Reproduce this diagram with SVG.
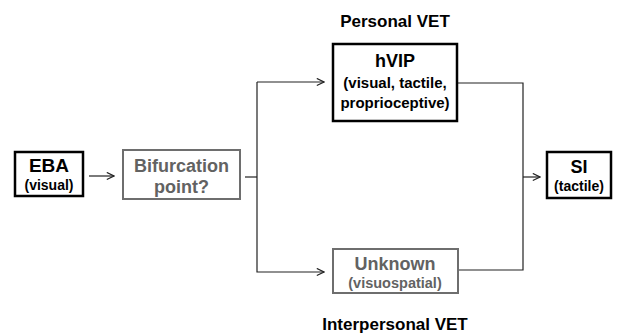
<svg xmlns="http://www.w3.org/2000/svg" width="617" height="333" viewBox="0 0 617 333">
<defs>
<marker id="arr" viewBox="0 0 10 10" refX="9" refY="5" markerWidth="9" markerHeight="9" markerUnits="userSpaceOnUse" orient="auto">
<path d="M1,1 L9,5 L1,9" fill="none" stroke="#222" stroke-width="1.3"/>
</marker>
<style>
text{font-family:"Liberation Sans",Arial,sans-serif;font-weight:bold;text-anchor:middle}
.bk{fill:#fff;stroke:#000;stroke-width:2.5}
.gy{fill:#fff;stroke:#6e6e6e;stroke-width:2}
.t{fill:#000}
.g{fill:#626262}
.ln{fill:none;stroke:#222;stroke-width:1.2}
</style>
</defs>
<rect width="617" height="333" fill="#fff"/>
<text class="t" x="395" y="27" font-size="17">Personal VET</text>
<text class="t" x="395" y="330" font-size="17">Interpersonal VET</text>
<g id="connectors">
<line class="ln" x1="89" y1="176" x2="114" y2="176" marker-end="url(#arr)"/>
<line class="ln" x1="245" y1="177" x2="257" y2="177"/>
<polyline class="ln" points="257,82 257,272 324,272" marker-end="url(#arr)"/>
<line class="ln" x1="257" y1="82" x2="324" y2="82" marker-end="url(#arr)"/>
<polyline class="ln" points="458,83 523,83 523,270 459,270"/>
<line class="ln" x1="523" y1="177" x2="540" y2="177" marker-end="url(#arr)"/>
</g>
<g id="EBA">
<rect class="bk" x="15" y="152" width="68" height="44"/>
<text class="t" x="49" y="172" font-size="19">EBA</text>
<text class="t" x="49" y="190" font-size="14">(visual)</text>
</g>
<g id="Bifurcation">
<rect class="gy" x="123" y="150" width="117" height="49"/>
<text class="g" x="181.5" y="172" font-size="18">Bifurcation</text>
<text class="g" x="181.5" y="193" font-size="18">point?</text>
</g>
<g id="hVIP">
<rect class="bk" x="333" y="44" width="124" height="77"/>
<text class="t" x="395" y="67" font-size="18">hVIP</text>
<text class="t" x="395" y="88" font-size="15">(visual, tactile,</text>
<text class="t" x="395" y="108" font-size="15">proprioceptive)</text>
</g>
<g id="Unknown">
<rect class="gy" x="333" y="249" width="125" height="44"/>
<text class="g" x="395" y="270" font-size="18">Unknown</text>
<text class="g" x="395" y="288" font-size="14.5">(visuospatial)</text>
</g>
<g id="SI">
<rect class="bk" x="547" y="152" width="64" height="46"/>
<text class="t" x="579" y="173" font-size="18">SI</text>
<text class="t" x="579" y="191" font-size="14">(tactile)</text>
</g>
</svg>
